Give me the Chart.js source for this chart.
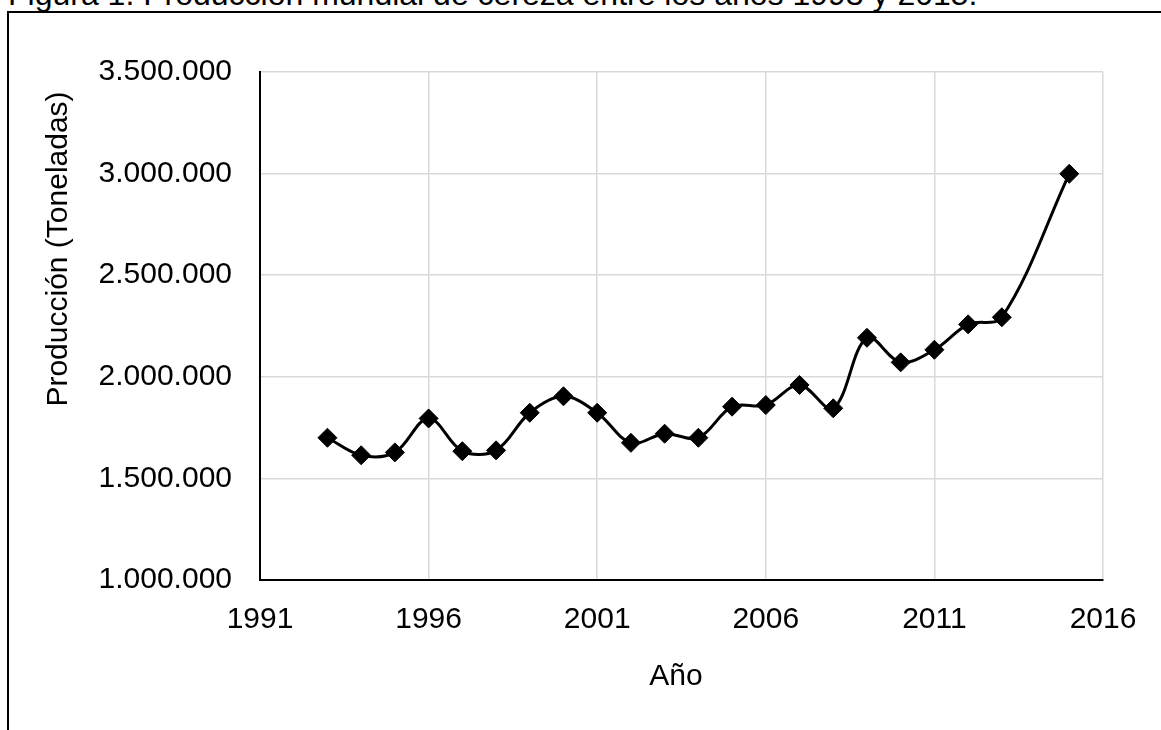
<!DOCTYPE html>
<html>
<head>
<meta charset="utf-8">
<script src="https://cdn.jsdelivr.net/npm/chart.js@4/dist/chart.umd.min.js"></script>
<style>
  html, body { margin: 0; padding: 0; width: 1161px; height: 730px; overflow: hidden; background: #fff; }
  #frame { position: absolute; left: 7px; top: 11px; width: 1300px; height: 900px; border: 2px solid #000; box-sizing: border-box; }
  #caption { position: absolute; left: 8px; top: -22px; font: 32px 'Liberation Sans', Arial, sans-serif; line-height: 32px; white-space: nowrap; color: #000; }
  #c { position: absolute; left: 0; top: 0; }
</style>
</head>
<body>
<div id="frame"></div>
<div id="caption">Figura 1. Producción mundial de cereza entre los años 1993 y 2015.</div>
<canvas id="c" width="1161" height="730"></canvas>
<script>
const years = [1993, 1994, 1995, 1996, 1997, 1998, 1999, 2000, 2001, 2002, 2003, 2004,
               2005, 2006, 2007, 2008, 2009, 2010, 2011, 2012, 2013, 2015];
const production = [1700000, 1614000, 1628000, 1795000, 1634000, 1638000, 1823000, 1904000,
                    1823000, 1675000, 1720000, 1700000, 1853000, 1861000, 1960000, 1845000,
                    2192000, 2071000, 2133000, 2258000, 2293000, 2999000];
const xTitle = 'Año';
const yTitle = 'Producción (Toneladas)';
const xMin = 1991, xMax = 2016, xStep = 5;
const yMin = 1000000, yMax = 3500000, yStep = 500000;

const FONT = "'Liberation Sans', Arial, sans-serif";
Chart.defaults.font.family = FONT;
Chart.defaults.font.size = 30;
Chart.defaults.color = '#000';

function fmtThousands(v) {
  return String(Math.round(v)).replace(/\B(?=(\d{3})+(?!\d))/g, '.');
}

const titlesPlugin = {
  id: 'axisTitles',
  afterDraw(chart) {
    const ctx = chart.ctx;
    ctx.save();
    ctx.fillStyle = '#000';
    ctx.font = '30px ' + FONT;
    ctx.textAlign = 'center';
    ctx.textBaseline = 'middle';
    ctx.fillText(xTitle, 676, 677);
    ctx.translate(59, 249);
    ctx.rotate(-Math.PI / 2);
    ctx.fillText(yTitle, 0, 0);
    ctx.restore();
  }
};

new Chart(document.getElementById('c'), {
  type: 'line',
  data: {
    datasets: [{
      data: years.map((y, i) => ({ x: y, y: production[i] })),
      borderColor: '#000',
      backgroundColor: '#000',
      borderWidth: 3,
      tension: 0.35,
      pointStyle: 'rectRot',
      pointRadius: 9.5,
      pointHoverRadius: 9.5,
      pointBackgroundColor: '#000',
      pointBorderColor: '#000',
      pointBorderWidth: 1,
      fill: false
    }]
  },
  options: {
    responsive: false,
    animation: false,
    events: [],
    layout: { padding: { top: 72, right: 58, left: 0, bottom: 0 } },
    plugins: { legend: { display: false }, tooltip: { enabled: false }, title: { display: false } },
    scales: {
      x: {
        type: 'linear',
        min: xMin, max: xMax,
        ticks: { stepSize: xStep, padding: 22, color: '#000', font: { size: 30 }, callback: v => String(v), maxRotation: 0 },
        grid: { color: '#d9d9d9', lineWidth: 1.5, drawTicks: false },
        border: { color: '#000', width: 2 },
        afterFit: s => { s.height = 150; }
      },
      y: {
        type: 'linear',
        min: yMin, max: yMax,
        ticks: { stepSize: yStep, padding: 28, color: '#000', font: { size: 30 }, callback: v => fmtThousands(v) },
        grid: { color: '#d9d9d9', lineWidth: 1.5, drawTicks: false },
        border: { color: '#000', width: 2 },
        afterFit: s => { s.width = 260; }
      }
    }
  },
  plugins: [titlesPlugin]
});
</script>
</body>
</html>
